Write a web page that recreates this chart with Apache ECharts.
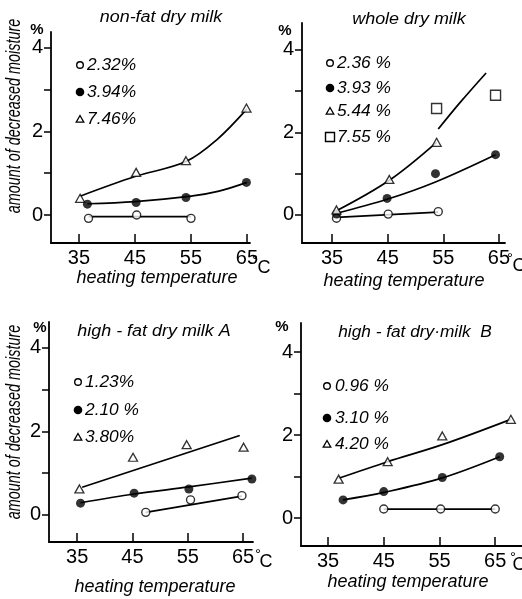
<!DOCTYPE html>
<html><head><meta charset="utf-8">
<script src="https://cdn.jsdelivr.net/npm/echarts@6/dist/echarts.min.js"></script>
<style>html,body{margin:0;padding:0;background:#fff}#c{width:522px;height:599px}</style>
</head><body><div id="c"></div>
<script>
// ---- shared axis values ----
const xTicks = [35, 45, 55, 65];
const yTicks = [0, 1, 2, 3, 4];
const yLabels = [0, 2, 4];

// ---- panel 1: non-fat dry milk ----
const p1Title = 'non-fat dry milk';
const p1Names = ['2.32%', '3.94%', '7.46%'];
const p1OpenX = [36.7, 45.3, 55.0];
const p1OpenY = [-0.08, 0.0, -0.08];
const p1FillX = [36.5, 45.2, 54.1, 64.9];
const p1FillY = [0.26, 0.30, 0.42, 0.78];
const p1TriX = [35.2, 45.2, 54.1, 64.9];
const p1TriY = [0.40, 1.02, 1.30, 2.56];
const p1OpenFitX = [36.7, 55.0];
const p1OpenFitY = [-0.04, -0.04];
const p1FillFitX = [36.5, 45, 55, 60, 65];
const p1FillFitY = [0.27, 0.32, 0.45, 0.57, 0.78];
const p1TriFitX = [35.2, 45, 54.1, 59.6, 65];
const p1TriFitY = [0.45, 0.92, 1.28, 1.8, 2.54];

// ---- panel 2: whole dry milk ----
const p2Title = 'whole dry milk';
const p2Names = ['2.36 %', '3.93 %', '5.44 %', '7.55 %'];
const p2OpenX = [35.8, 45.1, 54.1];
const p2OpenY = [-0.08, 0.02, 0.08];
const p2FillX = [35.8, 44.9, 53.6, 64.4];
const p2FillY = [0.02, 0.40, 1.0, 1.46];
const p2TriX = [35.8, 45.3, 53.8];
const p2TriY = [0.12, 0.86, 1.76];
const p2SqX = [53.8, 64.4];
const p2SqY = [2.58, 2.9];
const p2OpenFitX = [35.8, 54.1];
const p2OpenFitY = [-0.06, 0.07];
const p2FillFitX = [35.8, 44.9, 53.6, 64.4];
const p2FillFitY = [0.04, 0.38, 0.8, 1.46];
const p2TriFitX = [35.8, 45.3, 53.8];
const p2TriFitY = [0.1, 0.84, 1.76];
const p2SqFitX = [54.1, 58, 62.7];
const p2SqFitY = [2.08, 2.72, 3.44];

// ---- panel 3: high-fat dry milk A ----
const p3Title = 'high - fat dry milk A';
const p3Names = ['1.23%', '2.10 %', '3.80%'];
const p3OpenX = [47.4, 55.5, 64.8];
const p3OpenY = [0.06, 0.36, 0.46];
const p3FillX = [35.6, 45.3, 55.2, 66.6];
const p3FillY = [0.28, 0.52, 0.62, 0.86];
const p3TriX = [35.4, 45.1, 54.8, 65.1];
const p3TriY = [0.62, 1.38, 1.68, 1.62];
const p3OpenFitX = [47.4, 64.8];
const p3OpenFitY = [0.06, 0.45];
const p3FillFitX = [35.6, 45.3, 55.2, 66.6];
const p3FillFitY = [0.29, 0.5, 0.67, 0.88];
const p3TriFitX = [35.9, 64.4];
const p3TriFitY = [0.66, 1.9];

// ---- panel 4: high-fat dry milk B ----
const p4Title = 'high - fat dry·milk  B';
const p4Names = ['0.96 %', '3.10 %', '4.20 %'];
const p4OpenX = [45.0, 55.2, 65.0];
const p4OpenY = [0.22, 0.22, 0.22];
const p4FillX = [37.7, 45.0, 55.5, 65.8];
const p4FillY = [0.44, 0.64, 0.98, 1.48];
const p4TriX = [36.9, 45.7, 55.5, 67.8];
const p4TriY = [0.94, 1.36, 1.98, 2.38];
const p4OpenFitX = [45.0, 65.0];
const p4OpenFitY = [0.22, 0.22];
const p4FillFitX = [37.7, 45.0, 55.5, 65.8];
const p4FillFitY = [0.44, 0.62, 0.97, 1.48];
const p4TriFitX = [36.9, 45.7, 55.5, 67.8];
const p4TriFitY = [0.96, 1.36, 1.77, 2.38];

const xTitle = 'heating temperature';
const yTitle = 'amount of decreased moisture';

const FONT = '"Liberation Sans", Arial, sans-serif';
const zip = (xs, ys) => xs.map((x, i) => [x, ys[i]]);

const grids = [
  { left: 51, top: 32, width: 199, height: 211, xmin: 30, xmax: 65.54, ymin: -0.67, ymax: 4.38 },
  { left: 302, top: 23, width: 203, height: 220, xmin: 29.6, xmax: 66.1, ymin: -0.68, ymax: 4.65 },
  { left: 49, top: 322, width: 204, height: 220, xmin: 29.9, xmax: 66.8, ymin: -0.65, ymax: 4.62 },
  { left: 301, top: 323, width: 221, height: 223, xmin: 30.15, xmax: 69.8, ymin: -0.67, ymax: 4.7 }
];

const option = {
  backgroundColor: '#fff',
  animation: false,
  grid: grids.map(g => ({ left: g.left, top: g.top, width: g.width, height: g.height, containLabel: false })),
  xAxis: grids.map((g, i) => ({
    type: 'value', gridIndex: i, min: g.xmin, max: g.xmax,
    axisLine: { show: true, onZero: false, lineStyle: { color: '#000', width: 1.8 } },
    axisTick: { show: true, inside: true, length: 9, customValues: xTicks, lineStyle: { color: '#000', width: 1.5 } },
    axisLabel: { customValues: xTicks, color: '#000', fontFamily: FONT, fontSize: 20, margin: 5 },
    splitLine: { show: false }
  })),
  yAxis: grids.map((g, i) => ({
    type: 'value', gridIndex: i, min: g.ymin, max: g.ymax,
    axisLine: { show: true, onZero: false, lineStyle: { color: '#000', width: 1.8 } },
    axisTick: { show: true, inside: false, length: 7, customValues: yTicks, lineStyle: { color: '#000', width: 1.5 } },
    axisLabel: { customValues: yLabels, color: '#000', fontFamily: FONT, fontSize: 20, margin: 8 },
    splitLine: { show: false }
  })),
  series: [],
  graphic: []
};

function fit(i, xs, ys, name) {
  option.series.push({
    type: 'line', name: name, xAxisIndex: i, yAxisIndex: i, data: zip(xs, ys),
    smooth: 0.35, symbol: 'none', lineStyle: { color: '#000', width: 1.7 }, z: 2
  });
}
function pts(i, xs, ys, name, kind) {
  const s = {
    type: 'scatter', name: name, xAxisIndex: i, yAxisIndex: i, data: zip(xs, ys), z: 5
  };
  if (kind === 'open') { s.symbol = 'circle'; s.symbolSize = 8; s.itemStyle = { color: '#fff', borderColor: '#000', borderWidth: 1.4 }; }
  if (kind === 'fill') { s.symbol = 'circle'; s.symbolSize = 9; s.itemStyle = { color: '#000', borderColor: '#000', borderWidth: 0 }; }
  if (kind === 'tri') { s.symbol = 'triangle'; s.symbolSize = [9, 8]; s.itemStyle = { color: '#fff', borderColor: '#000', borderWidth: 1.3 }; }
  if (kind === 'sq') { s.symbol = 'rect'; s.symbolSize = 10; s.itemStyle = { color: '#fff', borderColor: '#000', borderWidth: 1.4 }; }
  option.series.push(s);
}

// panel 1
fit(0, p1OpenFitX, p1OpenFitY, 'f1a'); fit(0, p1FillFitX, p1FillFitY, 'f1b'); fit(0, p1TriFitX, p1TriFitY, 'f1c');
pts(0, p1OpenX, p1OpenY, p1Names[0], 'open'); pts(0, p1FillX, p1FillY, p1Names[1], 'fill'); pts(0, p1TriX, p1TriY, p1Names[2], 'tri');
// panel 2
fit(1, p2OpenFitX, p2OpenFitY, 'f2a'); fit(1, p2FillFitX, p2FillFitY, 'f2b'); fit(1, p2TriFitX, p2TriFitY, 'f2c'); fit(1, p2SqFitX, p2SqFitY, 'f2d');
pts(1, p2OpenX, p2OpenY, p2Names[0], 'open'); pts(1, p2FillX, p2FillY, p2Names[1], 'fill'); pts(1, p2TriX, p2TriY, p2Names[2], 'tri'); pts(1, p2SqX, p2SqY, p2Names[3], 'sq');
// panel 3
fit(2, p3OpenFitX, p3OpenFitY, 'f3a'); fit(2, p3FillFitX, p3FillFitY, 'f3b'); fit(2, p3TriFitX, p3TriFitY, 'f3c');
pts(2, p3OpenX, p3OpenY, p3Names[0], 'open'); pts(2, p3FillX, p3FillY, p3Names[1], 'fill'); pts(2, p3TriX, p3TriY, p3Names[2], 'tri');
// panel 4
fit(3, p4OpenFitX, p4OpenFitY, 'f4a'); fit(3, p4FillFitX, p4FillFitY, 'f4b'); fit(3, p4TriFitX, p4TriFitY, 'f4c');
pts(3, p4OpenX, p4OpenY, p4Names[0], 'open'); pts(3, p4FillX, p4FillY, p4Names[1], 'fill'); pts(3, p4TriX, p4TriY, p4Names[2], 'tri');

const G = option.graphic;
function txt(x, y, text, font, extra) {
  G.push(Object.assign({ type: 'text', x: x, y: y, z: 10,
    style: { text: text, font: font, fill: '#000', textAlign: 'center', textVerticalAlign: 'middle' } }, extra || {}));
}
function ltxt(x, y, text) {
  G.push({ type: 'text', x: x, y: y, z: 10, scaleX: 1.02,
    style: { text: text, font: 'italic 17px ' + FONT, fill: '#000', textAlign: 'left', textVerticalAlign: 'middle' } });
}
function mark(kind, x, y) {
  if (kind === 'open') G.push({ type: 'circle', shape: { cx: x, cy: y, r: 3.3 }, style: { fill: '#fff', stroke: '#000', lineWidth: 1.4 }, z: 10 });
  if (kind === 'fill') G.push({ type: 'circle', shape: { cx: x, cy: y, r: 4.3 }, style: { fill: '#000' }, z: 10 });
  if (kind === 'tri') G.push({ type: 'polygon', shape: { points: [[x, y - 3.5], [x + 3.8, y + 3.2], [x - 3.8, y + 3.2]] }, style: { fill: '#fff', stroke: '#000', lineWidth: 1.3 }, z: 10 });
  if (kind === 'sq') G.push({ type: 'rect', shape: { x: x - 4.5, y: y - 4.5, width: 9, height: 9 }, style: { fill: '#fff', stroke: '#000', lineWidth: 1.4 }, z: 10 });
}

const kinds = ['open', 'fill', 'tri', 'sq'];
// titles
txt(161, 18, p1Title, 'italic 16px ' + FONT, { scaleX: 1.12 });
txt(409, 20, p2Title, 'italic 16px ' + FONT, { scaleX: 1.12 });
txt(154, 332, p3Title, 'italic 16px ' + FONT, { scaleX: 1.12 });
txt(415, 333, p4Title, 'italic 16px ' + FONT, { scaleX: 1.08 });
// y titles
txt(14, 116, yTitle, 'italic 18px ' + FONT, { rotation: Math.PI / 2, scaleX: 0.8, scaleY: 1.12 });
txt(14, 422, yTitle, 'italic 18px ' + FONT, { rotation: Math.PI / 2, scaleX: 0.8, scaleY: 1.12 });
// % marks
txt(37, 30, '%', 'bold 15px ' + FONT);
txt(285, 31, '%', 'bold 15px ' + FONT);
txt(40, 328, '%', 'bold 15px ' + FONT);
txt(282, 327, '%', 'bold 15px ' + FONT);
// x titles
txt(157, 278, xTitle, 'italic 18px ' + FONT);
txt(404, 281, xTitle, 'italic 18px ' + FONT);
txt(155, 587, xTitle, 'italic 18px ' + FONT);
txt(408, 582, xTitle, 'italic 18px ' + FONT);
// degree C
[[255, 261, 264, 268], [510, 259, 519, 266], [258, 555, 266, 562], [513, 558, 519, 565]].forEach(p => {
  txt(p[0], p[1], '°', '15px ' + FONT);
  txt(p[2], p[3], 'C', '18px ' + FONT);
});
// legends
const legs = [
  { x: 80, tx: 87, ys: [65, 92, 119], names: p1Names },
  { x: 330, tx: 337, ys: [63, 88, 111, 137], names: p2Names },
  { x: 78, tx: 85, ys: [382, 410, 437], names: p3Names },
  { x: 327, tx: 335, ys: [386, 418, 444], names: p4Names }
];
legs.forEach(L => {
  L.names.forEach((n, k) => { mark(kinds[k], L.x, L.ys[k]); ltxt(L.tx, L.ys[k], n); });
});

const chart = echarts.init(document.getElementById('c'), null, { renderer: 'canvas' });
chart.setOption(option);
</script>
</body></html>
